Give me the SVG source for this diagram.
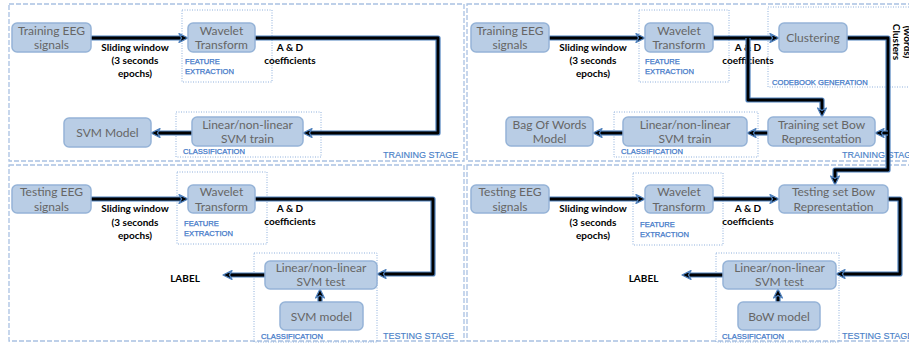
<svg xmlns="http://www.w3.org/2000/svg" width="909" height="343" viewBox="0 0 909 343">
<style>
.stage{fill:none;stroke:#a9c1e2;stroke-width:1.3;stroke-dasharray:5 2}
.grp{fill:none;stroke:#8fb0dc;stroke-width:1;stroke-dasharray:1 1.5}
.box{fill:#b9cde5;stroke:#95b3d7;stroke-width:1.5}
.nt{font-family:Lato,"Liberation Sans",sans-serif;font-size:12px;fill:#666;text-anchor:middle}
.bl{font-family:Lato,"Liberation Sans",sans-serif;font-size:10px;font-weight:bold;fill:#000;text-anchor:middle}
.sm{font-family:"Liberation Sans",Arial,sans-serif;font-size:7.6px;fill:#3f78c8;stroke:#3f78c8;stroke-width:0.25}
.st{font-family:"Liberation Sans",Arial,sans-serif;font-size:9px;fill:#4a7fc8;stroke:#4a7fc8;stroke-width:0.15}
.cb{fill:none;stroke:#4f81bd;stroke-width:5.2;stroke-linejoin:round}
.ck{fill:none;stroke:#000;stroke-width:2.8;stroke-linejoin:round;marker-end:url(#ah)}
</style>
<defs>
<marker id="ah" markerWidth="10" markerHeight="10" viewBox="0 0 10 10" refX="2" refY="5" orient="auto" markerUnits="userSpaceOnUse" overflow="visible">
<path d="M0,0.6 L9,5 L0,9.4 L2.5,5 Z" fill="#000" stroke="#4f81bd" stroke-width="1.3" stroke-linejoin="round"/>
</marker>
</defs>
<rect width="909" height="343" fill="#fff"/>

<g id="stages">
<rect class="stage" x="9" y="4" width="455" height="157"/>
<rect class="stage" x="9" y="165" width="455" height="176"/>
<rect class="stage" x="467" y="4" width="460" height="157"/>
<rect class="stage" x="467" y="165" width="460" height="176"/>
<text class="st" x="383" y="157.5">TRAINING STAGE</text>
<text class="st" x="383" y="339">TESTING STAGE</text>
<text class="st" x="842" y="157.5">TRAINING STAGE</text>
<text class="st" x="842" y="339">TESTING STAGE</text>
</g>

<g id="groups">
<rect class="grp" x="182" y="10" width="90" height="72"/>
<text class="sm" x="185" y="64">FEATURE</text>
<text class="sm" x="185" y="73.5">EXTRACTION</text>
<rect class="grp" x="176" y="112" width="145" height="45"/>
<text class="sm" x="183" y="154">CLASSIFICATION</text>
<rect class="grp" x="177" y="172" width="90" height="72"/>
<text class="sm" x="184" y="226">FEATURE</text>
<text class="sm" x="184" y="235.5">EXTRACTION</text>
<rect class="grp" x="254" y="253" width="123" height="89"/>
<text class="sm" x="261" y="339">CLASSIFICATION</text>
<rect class="grp" x="639" y="10" width="90" height="72"/>
<text class="sm" x="645" y="64">FEATURE</text>
<text class="sm" x="645" y="73.5">EXTRACTION</text>
<rect class="grp" x="768" y="7" width="160" height="80"/>
<text class="sm" x="772" y="85">CODEBOOK GENERATION</text>
<rect class="grp" x="614" y="112" width="144" height="45"/>
<text class="sm" x="621" y="154">CLASSIFICATION</text>
<rect class="grp" x="633" y="173" width="90" height="72"/>
<text class="sm" x="640" y="227">FEATURE</text>
<text class="sm" x="640" y="236.5">EXTRACTION</text>
<rect class="grp" x="716" y="253" width="123" height="89"/>
<text class="sm" x="722" y="339">CLASSIFICATION</text>
</g>

<g id="labels">
<text class="bl" x="135" y="51">Sliding window</text>
<text class="bl" x="135" y="64">(3 seconds</text>
<text class="bl" x="135" y="76.5">epochs)</text>
<text class="bl" x="290" y="51">A &amp; D</text>
<text class="bl" x="290" y="64">coefficients</text>
<text class="bl" x="135" y="212">Sliding window</text>
<text class="bl" x="135" y="225.5">(3 seconds</text>
<text class="bl" x="135" y="238.5">epochs)</text>
<text class="bl" x="290" y="211.5">A &amp; D</text>
<text class="bl" x="290" y="225">coefficients</text>
<text class="bl" x="185" y="281.5">LABEL</text>
<text class="bl" x="593" y="51">Sliding window</text>
<text class="bl" x="593" y="64">(3 seconds</text>
<text class="bl" x="593" y="76.5">epochs)</text>
<text class="bl" x="748" y="51">A &amp; D</text>
<text class="bl" x="748" y="64">coefficients</text>
<text class="bl" x="593" y="212">Sliding window</text>
<text class="bl" x="593" y="225.5">(3 seconds</text>
<text class="bl" x="593" y="238.5">epochs)</text>
<text class="bl" x="748" y="211.5">A &amp; D</text>
<text class="bl" x="748" y="225">coefficients</text>
<text class="bl" x="643.5" y="281.5">LABEL</text>
<text class="bl" transform="translate(893,42) rotate(90)">Clusters</text>
<text class="bl" transform="translate(904,42) rotate(90)">(words)</text>
</g>

<g id="connectors">
<path class="cb" d="M91,38 H181"/><path class="ck" d="M91,38 H181"/>
<path class="cb" d="M255,38 H438 V133 H310"/><path class="ck" d="M255,38 H438 V133 H310"/>
<path class="cb" d="M192,133 H158"/><path class="ck" d="M192,133 H158"/>
<path class="cb" d="M91,199 H181"/><path class="ck" d="M91,199 H181"/>
<path class="cb" d="M255,199 H433 V274 H384"/><path class="ck" d="M255,199 H433 V274 H384"/>
<path class="cb" d="M265,275 H230"/><path class="ck" d="M265,275 H230"/>
<path class="cb" d="M320,302 V296"/><path class="ck" d="M320,302 V296"/>
<path class="cb" d="M549,38 H638"/><path class="ck" d="M549,38 H638"/>
<path class="cb" d="M713,38 H772"/><path class="ck" d="M713,38 H772"/>
<path class="cb" d="M748,38 V100 H822 V110"/><path class="ck" d="M748,38 V100 H822 V110"/>
<path class="cb" d="M847,38 H888 V170 H835 V178"/><path class="ck" d="M847,38 H888 V170 H835 V178"/>
<path class="cb" d="M888,133 H882"/><path class="ck" d="M888,133 H882"/>
<path class="cb" d="M768,133 H754"/><path class="ck" d="M768,133 H754"/>
<path class="cb" d="M623,133 H600"/><path class="ck" d="M623,133 H600"/>
<path class="cb" d="M549,199 H638"/><path class="ck" d="M549,199 H638"/>
<path class="cb" d="M713,199 H772"/><path class="ck" d="M713,199 H772"/>
<path class="cb" d="M888,199 H900 V274 H843"/><path class="ck" d="M888,199 H900 V274 H843"/>
<path class="cb" d="M723,275 H689"/><path class="ck" d="M723,275 H689"/>
<path class="cb" d="M778,302 V296"/><path class="ck" d="M778,302 V296"/>
</g>

<g id="n_train_eeg_L"><rect class="box" x="12" y="23" width="79" height="29" rx="5"/><text class="nt" x="51.5" y="35">Training EEG</text><text class="nt" x="51.5" y="49">signals</text></g>
<g id="n_wavelet_trL"><rect class="box" x="188" y="23" width="67" height="29" rx="5"/><text class="nt" x="221.5" y="35">Wavelet</text><text class="nt" x="221.5" y="49">Transform</text></g>
<g id="n_svmtrain_L"><rect class="box" x="192" y="117" width="111" height="29" rx="5"/><text class="nt" x="247.5" y="129">Linear/non-linear</text><text class="nt" x="247.5" y="143">SVM train</text></g>
<g id="n_svmmodel_L"><rect class="box" x="64" y="118" width="87" height="29" rx="5"/><text class="nt" x="107.5" y="137">SVM Model</text></g>

<g id="n_test_eeg_L"><rect class="box" x="12" y="185" width="79" height="28" rx="5"/><text class="nt" x="51.5" y="196">Testing EEG</text><text class="nt" x="51.5" y="210.5">signals</text></g>
<g id="n_wavelet_teL"><rect class="box" x="188" y="185" width="67" height="28" rx="5"/><text class="nt" x="221.5" y="196">Wavelet</text><text class="nt" x="221.5" y="210.5">Transform</text></g>
<g id="n_svmtest_L"><rect class="box" x="265" y="261" width="112" height="28" rx="5"/><text class="nt" x="321" y="271.5">Linear/non-linear</text><text class="nt" x="321" y="286">SVM test</text></g>
<g id="n_svmmodel_teL"><rect class="box" x="280" y="302" width="83" height="28" rx="5"/><text class="nt" x="321.5" y="321">SVM model</text></g>

<g id="n_train_eeg_R"><rect class="box" x="471" y="23" width="78" height="29" rx="5"/><text class="nt" x="510" y="35">Training EEG</text><text class="nt" x="510" y="49">signals</text></g>
<g id="n_wavelet_trR"><rect class="box" x="645" y="23" width="68" height="29" rx="5"/><text class="nt" x="679" y="35">Wavelet</text><text class="nt" x="679" y="49">Transform</text></g>
<g id="n_cluster"><rect class="box" x="779" y="23" width="68" height="29" rx="5"/><text class="nt" x="813" y="42">Clustering</text></g>
<g id="n_trainbow"><rect class="box" x="768" y="117" width="107" height="29" rx="5"/><text class="nt" x="821.5" y="129">Training set Bow</text><text class="nt" x="821.5" y="143">Representation</text></g>
<g id="n_svmtrain_R"><rect class="box" x="623" y="117" width="124" height="29" rx="5"/><text class="nt" x="685" y="129">Linear/non-linear</text><text class="nt" x="685" y="143">SVM train</text></g>
<g id="n_bowmodel"><rect class="box" x="506" y="117" width="87" height="29" rx="5"/><text class="nt" x="549.5" y="129">Bag Of Words</text><text class="nt" x="549.5" y="143">Model</text></g>

<g id="n_test_eeg_R"><rect class="box" x="471" y="185" width="78" height="28" rx="5"/><text class="nt" x="510" y="196">Testing EEG</text><text class="nt" x="510" y="210.5">signals</text></g>
<g id="n_wavelet_teR"><rect class="box" x="645" y="185" width="68" height="28" rx="5"/><text class="nt" x="679" y="196">Wavelet</text><text class="nt" x="679" y="210.5">Transform</text></g>
<g id="n_testbow"><rect class="box" x="779" y="185" width="109" height="28" rx="5"/><text class="nt" x="833.5" y="196">Testing set Bow</text><text class="nt" x="833.5" y="210.5">Representation</text></g>
<g id="n_svmtest_R"><rect class="box" x="723" y="261" width="113" height="28" rx="5"/><text class="nt" x="779.5" y="271.5">Linear/non-linear</text><text class="nt" x="779.5" y="286">SVM test</text></g>
<g id="n_bow_te"><rect class="box" x="738" y="302" width="82" height="28" rx="5"/><text class="nt" x="779" y="321">BoW model</text></g>
</svg>
